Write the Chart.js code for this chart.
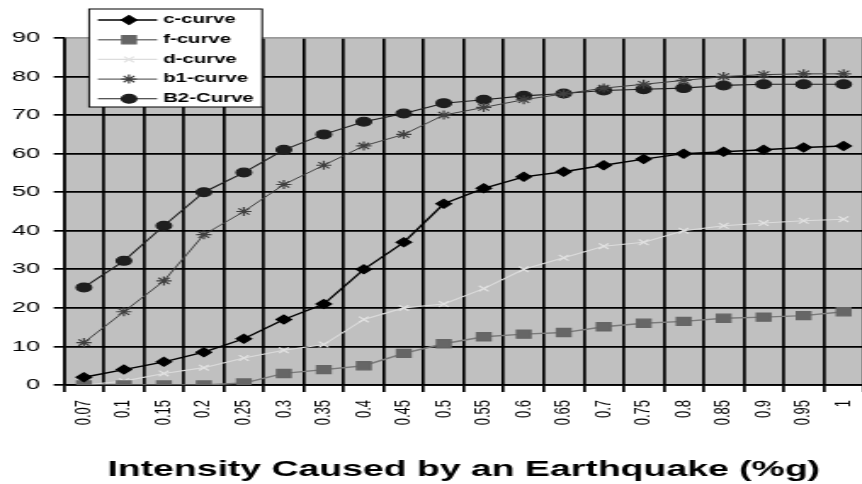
<!DOCTYPE html>
<html>
<head>
<meta charset="utf-8">
<script src="https://cdn.jsdelivr.net/npm/chart.js@4.4.1/dist/chart.umd.min.js"></script>
<style>
  html, body { margin: 0; padding: 0; background: #fff; overflow: hidden; width: 862px; height: 484px; }
  /* a figura original vem esticada na horizontal, por isso o scaleX */
  #caixa { width: 520px; height: 484px; transform: scaleX(1.7); transform-origin: 0 0; }
</style>
</head>
<body>
<div id="caixa"><canvas id="myChart_1"></canvas></div>
<script>
// Dados
const intensidades = ['0.07', '0.1', '0.15', '0.2', '0.25', '0.3', '0.35', '0.4', '0.45', '0.5',
                      '0.55', '0.6', '0.65', '0.7', '0.75', '0.8', '0.85', '0.9', '0.95', '1'];
const nomesCurvas = ['c-curve', 'f-curve', 'd-curve', 'b1-curve', 'B2-Curve'];
const cCurve  = [2, 4, 6, 8.5, 12, 17, 21, 30, 37, 47, 51, 54, 55.3, 57, 58.6, 60, 60.5, 61, 61.6, 62];
const fCurve  = [0, 0, 0, 0, 0.5, 3, 4, 5, 8.2, 10.7, 12.5, 13.2, 13.6, 15.1, 16, 16.5, 17.3, 17.6, 18, 19];
const dCurve  = [0, 1, 3, 4.5, 7, 9, 10.5, 17, 20, 21, 25, 30, 33, 36, 37, 40, 41.3, 42, 42.6, 43];
const b1Curve = [11, 19, 27, 39, 45, 52, 57, 62, 65, 70, 72, 74, 75.5, 77, 78, 79, 80, 80.5, 80.7, 80.7];
const b2Curve = [25.3, 32.2, 41.3, 50, 55.1, 61, 65, 68.3, 70.4, 73.1, 74, 75, 75.6, 76.4, 76.7, 77, 77.7, 78, 78, 78];

const fonte = 'Arial, "Liberation Sans", sans-serif';

// fundo cinza da area do grafico
const fundoCinza = {
  id: 'fundoCinza',
  beforeDraw(chart) {
    const { ctx, chartArea: a } = chart;
    ctx.save();
    ctx.fillStyle = '#c0c0c0';
    ctx.fillRect(a.left, a.top, a.right - a.left, a.bottom - a.top);
    ctx.restore();
  }
};

// legenda desenhada dentro de uma caixa branca
const legendaCaixa = {
  id: 'legendaCaixa',
  afterDraw(chart) {
    const ctx = chart.ctx;
    const x0 = 52.4, y0 = 9, w = 101.8, h = 98;
    ctx.save();
    ctx.fillStyle = '#fff';
    ctx.fillRect(x0, y0, w, h);
    ctx.strokeStyle = '#000';
    ctx.lineWidth = 1;
    ctx.strokeRect(x0, y0, w, h);
    chart.data.datasets.forEach((ds, i) => {
      const y = 20 + i * 19.7;
      ctx.strokeStyle = ds.borderColor;
      ctx.lineWidth = ds.borderWidth;
      ctx.beginPath();
      ctx.moveTo(57.6, y);
      ctx.lineTo(92.4, y);
      ctx.stroke();
      ctx.fillStyle = ds.pointBackgroundColor;
      ctx.strokeStyle = ds.pointBorderColor;
      ctx.lineWidth = ds.pointBorderWidth;
      Chart.helpers.drawPoint(ctx, {
        pointStyle: ds.pointStyle, radius: ds.pointRadius,
        borderWidth: ds.pointBorderWidth, rotation: 0
      }, 75.9, y);
      ctx.fillStyle = '#000';
      ctx.font = 'bold 12px ' + fonte;
      ctx.textBaseline = 'middle';
      ctx.textAlign = 'left';
      ctx.fillText(ds.label, 95.9, y);
    });
    ctx.restore();
  }
};

function serie(nome, valores, cor, corPonto, estilo, raio, largura) {
  return {
    label: nome,
    data: valores,
    borderColor: cor,
    borderWidth: largura,
    pointStyle: estilo,
    pointRadius: raio,
    pointHoverRadius: raio,
    pointBackgroundColor: corPonto,
    pointBorderColor: corPonto,
    pointBorderWidth: 1.2,
    tension: 0
  };
}

function gerarGrafico1() {
  const ctx1 = document.getElementById('myChart_1').getContext('2d');

  const data1 = {
    labels: intensidades,
    datasets: [
      serie(nomesCurvas[0], cCurve, '#000', '#000', 'rectRot', 4.4, 1.4),
      serie(nomesCurvas[1], fCurve, '#7a7a7a', '#666', 'rect', 5.8, 1.4),
      serie(nomesCurvas[2], dCurve, '#dcdcdc', '#e2e2e2', 'crossRot', 4, 1.1),
      serie(nomesCurvas[3], b1Curve, '#404040', '#404040', 'star', 4.5, 1),
      serie(nomesCurvas[4], b2Curve, '#1e1e1e', '#1e1e1e', 'circle', 4.4, 1.1)
    ]
  };

  const options = {
    responsive: true,
    maintainAspectRatio: false,
    animation: false,
    layout: { padding: { top: 38, right: 2.4, left: 0, bottom: 0 } },
    plugins: {
      legend: { display: false },
      tooltip: { enabled: false }
    },
    scales: {
      x: {
        offset: true,
        grid: {
          offset: true,
          color: '#000',
          lineWidth: 1.7,
          tickLength: 7,
          tickColor: '#000'
        },
        border: { color: '#000', width: 1.7 },
        ticks: {
          autoSkip: false,
          minRotation: 90,
          maxRotation: 90,
          padding: 8,
          color: '#000',
          font: { size: 13, family: fonte }
        },
        title: {
          display: true,
          text: 'Intensity Caused by an Earthquake (%g)',
          color: '#000',
          padding: { top: 0, bottom: 1 },
          font: { size: 22, family: fonte, weight: 'bold' }
        },
        afterFit(scale) { scale.height = 99; }
      },
      y: {
        min: 0,
        max: 90,
        grid: {
          color: c => (c.tick && c.tick.value === 90 ? '#9a9a9a' : '#000'),
          lineWidth: 1.7,
          tickLength: 6,
          tickColor: '#000'
        },
        border: { color: '#000', width: 1.4 },
        ticks: {
          stepSize: 10,
          padding: 8,
          color: '#000',
          font: { size: 15, family: fonte }
        },
        afterFit(scale) { scale.width = 37.6; }
      }
    }
  };

  chart1 = new Chart(ctx1, {
    type: 'line',
    data: data1,
    options: options,
    plugins: [fundoCinza, legendaCaixa]
  });
}

gerarGrafico1();
</script>
</body>
</html>
